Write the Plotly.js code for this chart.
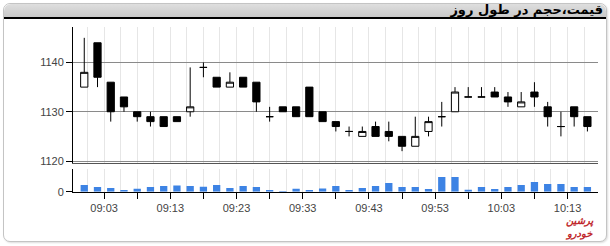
<!DOCTYPE html>
<html>
<head>
<meta charset="utf-8">
<script src="https://cdn.plot.ly/plotly-3.0.1.min.js"></script>
<style>
  html, body { margin:0; padding:0; background:#fff; }
  #card { position:absolute; left:3px; top:3px; width:602px; height:237px; border:1px solid #c4c4c4; border-radius:7px; background:#fff; box-shadow:1px 1px 2px #ddd; }
  #hdr { position:absolute; left:0; top:0; width:602px; height:13px; background:linear-gradient(#dedede,#c9c9c9); border-bottom:2px solid #000; border-radius:7px 7px 0 0; }
  #ttl { position:absolute; right:3px; top:-2px; font-family:"DejaVu Sans", sans-serif; font-weight:bold; font-size:13px; color:#000; direction:rtl; }
  #chart { position:absolute; left:0; top:0; width:610px; height:246px; }
  #logo { position:absolute; left:566px; top:214px; font-family:"DejaVu Sans", sans-serif; font-weight:bold; font-style:italic; font-size:10px; color:#c0282d; direction:rtl; text-align:center; }
  #logo div { height:13px; line-height:13px; }
</style>
</head>
<body>
<div id="card"><div id="hdr"><div id="ttl">قیمت،حجم در طول روز</div></div></div>
<div id="chart"></div>
<div id="logo"><div>پرشین</div><div>خودرو</div></div>
<script>
const times = ["09:00","09:02","09:04","09:06","09:08","09:10","09:12","09:14","09:16","09:18",
  "09:20","09:22","09:24","09:26","09:28","09:30","09:32","09:34","09:36","09:38",
  "09:40","09:42","09:44","09:46","09:48","09:50","09:52","09:54","09:56","09:58",
  "10:00","10:02","10:04","10:06","10:08","10:10","10:12","10:14","10:16"];
const openP  = [1135,1144,1136,1133,1130,1129,1129,1129,1130,1139,1137,1135,1137,1136,1129,1131,1131,1135,1130,1128,1126,1125,1127,1126,1125,1123,1126,1129,1130,1133,1133,1134,1133,1131,1134,1131,1127,1131,1129];
const highP  = [1145,1144,1136,1133,1130,1130,1129,1129,1139,1140,1137,1138,1137,1136,1131,1131,1131,1135,1130,1128,1127,1127,1128,1128,1125,1129,1129,1132,1135,1135,1135,1135,1134,1134,1136,1132,1130,1131,1129];
const lowP   = [1135,1135,1128,1130,1128,1127,1127,1128,1129,1137,1135,1135,1135,1130,1128,1130,1129,1129,1128,1126,1125,1125,1125,1124,1122,1123,1125,1127,1130,1133,1133,1133,1131,1131,1131,1127,1125,1127,1126];
const closeP = [1138,1137,1130,1131,1129,1128,1127,1128,1131,1139,1135,1136,1135,1132,1129,1130,1129,1129,1128,1127,1126,1126,1125,1125,1123,1125,1128,1129,1134,1133,1133,1133,1132,1132,1133,1129,1127,1129,1127];
const volume = [67,47,37,17,30,47,57,63,57,50,67,37,57,47,17,7,30,17,33,57,17,37,57,87,47,47,27,147,147,20,47,27,47,67,97,77,77,47,47];
const tickTimes = ["09:03","09:08","09:13","09:18","09:23","09:28","09:33","09:38","09:43","09:48","09:53","09:58","10:03","10:08","10:13"];
const tickLabels = ["09:03","","09:13","","09:23","","09:33","","09:43","","09:53","","10:03","","10:13"];

const D = "2024-01-01 ";
const xs = times.map(t => D + t);
const tv = tickTimes.map(t => D + t);
const xr = [D + "08:58:18", D + "10:17:36"];
const tickFont = {family:"Liberation Sans, Arial, sans-serif", size:11, color:"#444"};

const traces = [
  {type:"bar", x:xs, y:volume, xaxis:"x", yaxis:"y", marker:{color:"#3d83e4"}, hoverinfo:"skip"},
  {type:"candlestick", x:xs, open:openP, high:highP, low:lowP, close:closeP, xaxis:"x2", yaxis:"y2",
   increasing:{line:{color:"#000", width:1}, fillcolor:"#fff"},
   decreasing:{line:{color:"#000", width:1}, fillcolor:"#000"},
   whiskerwidth:0, hoverinfo:"skip"}
];
const grid = {minor:{dtick:150000, tick0:D+"09:00:30", showgrid:true, gridcolor:"#e6e6e6", gridwidth:1, ticks:""}};
const layout = {
  width:610, height:246, margin:{l:0,r:0,t:0,b:0},
  paper_bgcolor:"rgba(0,0,0,0)", plot_bgcolor:"rgba(0,0,0,0)",
  showlegend:false, bargap:0.45, boxgap:0.22,
  xaxis:Object.assign({type:"date", domain:[73/610, 598/610], range:xr, anchor:"y",
    tickmode:"array", tickvals:tv, ticktext:tickLabels, ticks:"outside", ticklen:6, tickcolor:"#000",
    showgrid:true, gridcolor:"#e6e6e6", showline:true, linecolor:"#000", linewidth:1,
    tickfont:tickFont, rangeslider:{visible:false}, fixedrange:true}, grid),
  xaxis2:Object.assign({type:"date", domain:[73/610, 598/610], range:xr, anchor:"y2", matches:"x",
    tickmode:"array", tickvals:tv, ticks:"", showticklabels:false,
    showgrid:true, gridcolor:"#e6e6e6", showline:true, linecolor:"#555", linewidth:1,
    rangeslider:{visible:false}, fixedrange:true}, grid),
  yaxis:{domain:[(246-191.7)/246, (246-169)/246], range:[0,227], anchor:"x",
    tickmode:"array", tickvals:[0], ticks:"outside", ticklen:6, tickcolor:"#000",
    showgrid:false, zeroline:false, showline:true, linecolor:"#000", linewidth:1, tickfont:tickFont},
  yaxis2:{domain:[(246-163)/246, (246-27)/246], range:[1119.6, 1147.2], anchor:"x2",
    tickmode:"array", tickvals:[1120,1130,1140], ticks:"outside", ticklen:6, tickcolor:"#000",
    showgrid:true, gridcolor:"#8a8a8a", gridwidth:1, zeroline:false,
    showline:true, linecolor:"#000", linewidth:1, tickfont:tickFont}
};
Plotly.newPlot("chart", traces, layout, {staticPlot:true, displayModeBar:false});
</script>
</body>
</html>
